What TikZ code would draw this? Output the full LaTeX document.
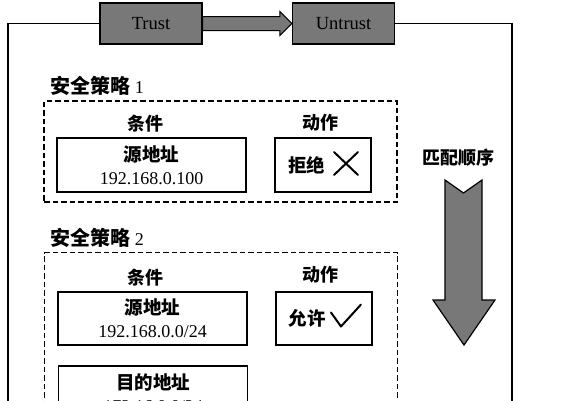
\documentclass[tikz,border=0pt]{standalone}
\usepackage{fontspec}
\setmainfont{Liberation Serif}
\newfontfamily\cjk{Noto Sans CJK SC}
\usetikzlibrary{calc}
\begin{document}
\begin{tikzpicture}[x=1pt, y=-1pt]
        \tikzstyle{zone_box}  = [shape = rectangle, draw = black, line width=1.2pt, fill = black!53, minimum width=102pt, minimum height=41pt, font=\fontsize{18.5}{20}\selectfont]
        \tikzstyle{cond_box}  = [shape = rectangle, draw = black, line width=1.4pt, minimum width=189pt, minimum height=54pt, align=center, inner sep=0pt, font=\fontsize{18}{23}\selectfont]
        \tikzstyle{act_box}   = [cond_box, minimum width=96pt]
        \tikzstyle{rule_box}  = [shape = rectangle, draw = black, line width=1.3pt, dash pattern=on 5.5pt off 3pt, minimum width=353pt, inner sep=0pt]
        \tikzstyle{cjk_text}  = [font=\cjk\bfseries\fontsize{18}{22}\selectfont, inner sep=0pt]
        \tikzstyle{rule_text} = [cjk_text, anchor=west, font=\cjk\bfseries\fontsize{20}{22}\selectfont]
        \tikzstyle{icon}      = [line width=2pt, line cap=round, line join=round]

        \useasboundingbox (0,0) rectangle (568,400);
        \clip (0,0) rectangle (568,400);

        \node[zone_box] at (151.0,  23.5) (trust)   {Trust};
        \node[zone_box] at (343.5,  23.5) (untrust) {Untrust};

        \node[rule_text] at (50,  86.0) (r1_lbl) {安全策略 {\rmfamily\mdseries\fontsize{18}{22}\selectfont 1}};
        \node[rule_box, minimum height=101pt] at (220.5, 151.5) (r1) {};
        \node[cjk_text] at (145.5, 124.0) (r1_cond) {条件};
        \node[cjk_text] at (320.0, 123.0) (r1_act)  {动作};
        \node[cond_box] at (151.5, 165.0) (r1_src) {{\cjk\bfseries\fontsize{18.5}{22}\selectfont 源地址}\\192.168.0.100};
        \node[act_box]  at (323.0, 165.0) (r1_deny) {{\cjk\bfseries\fontsize{18.5}{22}\selectfont 拒绝}\hspace{33pt}};

        \node[rule_text] at (50, 237.5) (r2_lbl) {安全策略 {\rmfamily\mdseries\fontsize{18}{22}\selectfont 2}};
        \node[rule_box, minimum height=200pt, anchor=north] at (221.0, 252.0) (r2) {};
        \node[cjk_text] at (145.5, 278.0) (r2_cond) {条件};
        \node[cjk_text] at (320.0, 275.0) (r2_act)  {动作};
        \node[cond_box, minimum height=53pt] at (152.5, 318.5) (r2_src)   {{\cjk\bfseries\fontsize{18.5}{22}\selectfont 源地址}\\192.168.0.0/24};
        \node[act_box, minimum height=53pt]  at (324.0, 318.5) (r2_allow) {{\cjk\bfseries\fontsize{18.5}{22}\selectfont 允许}\hspace{34pt}};
        \node[cond_box] at (153.0, 393.0) (r2_dst) {{\cjk\bfseries\fontsize{18.5}{22}\selectfont 目的地址}\\172.16.0.0/24};

        \node[cjk_text] at (458.0, 158.0) (order) {匹配顺序};

        % deny cross and allow tick
        \draw[icon]
          ($(r1_deny.center)+(11,-13)$) -- ($(r1_deny.center)+(35,10)$)
          ($(r1_deny.center)+(11,10)$) -- ($(r1_deny.center)+(35,-13)$)
        ;
        \draw[icon]
          ($(r2_allow.center)+(7,-6)$) -- ($(r2_allow.center)+(17,8)$) -- ($(r2_allow.center)+(37,-14)$)
        ;

        % outer frame
        \draw[line width=1.3pt]
          (trust.west) -- (8, 23.5) -- (8, 420)
          (untrust.east) -- (512, 23.5) -- (512, 420)
        ;

        % trust -> untrust
        \draw[line width=1pt, fill=black!53]
          ($(trust.east)+(0,-7)$) -- ($(untrust.west)+(-12,-7)$) -- ($(untrust.west)+(-12,-12)$)
          -- (untrust.west) -- ($(untrust.west)+(-12,12)$) -- ($(untrust.west)+(-12,7)$)
          -- ($(trust.east)+(0,7)$) -- cycle
        ;

        % match order arrow
        \draw[line width=1.2pt, fill=black!53]
          (445, 180) -- (463.5, 193) -- (482, 180) -- (482, 300) -- (495, 300)
          -- (464, 345) -- (433, 300) -- (445, 300) -- cycle
        ;
      \end{tikzpicture}
\end{document}
